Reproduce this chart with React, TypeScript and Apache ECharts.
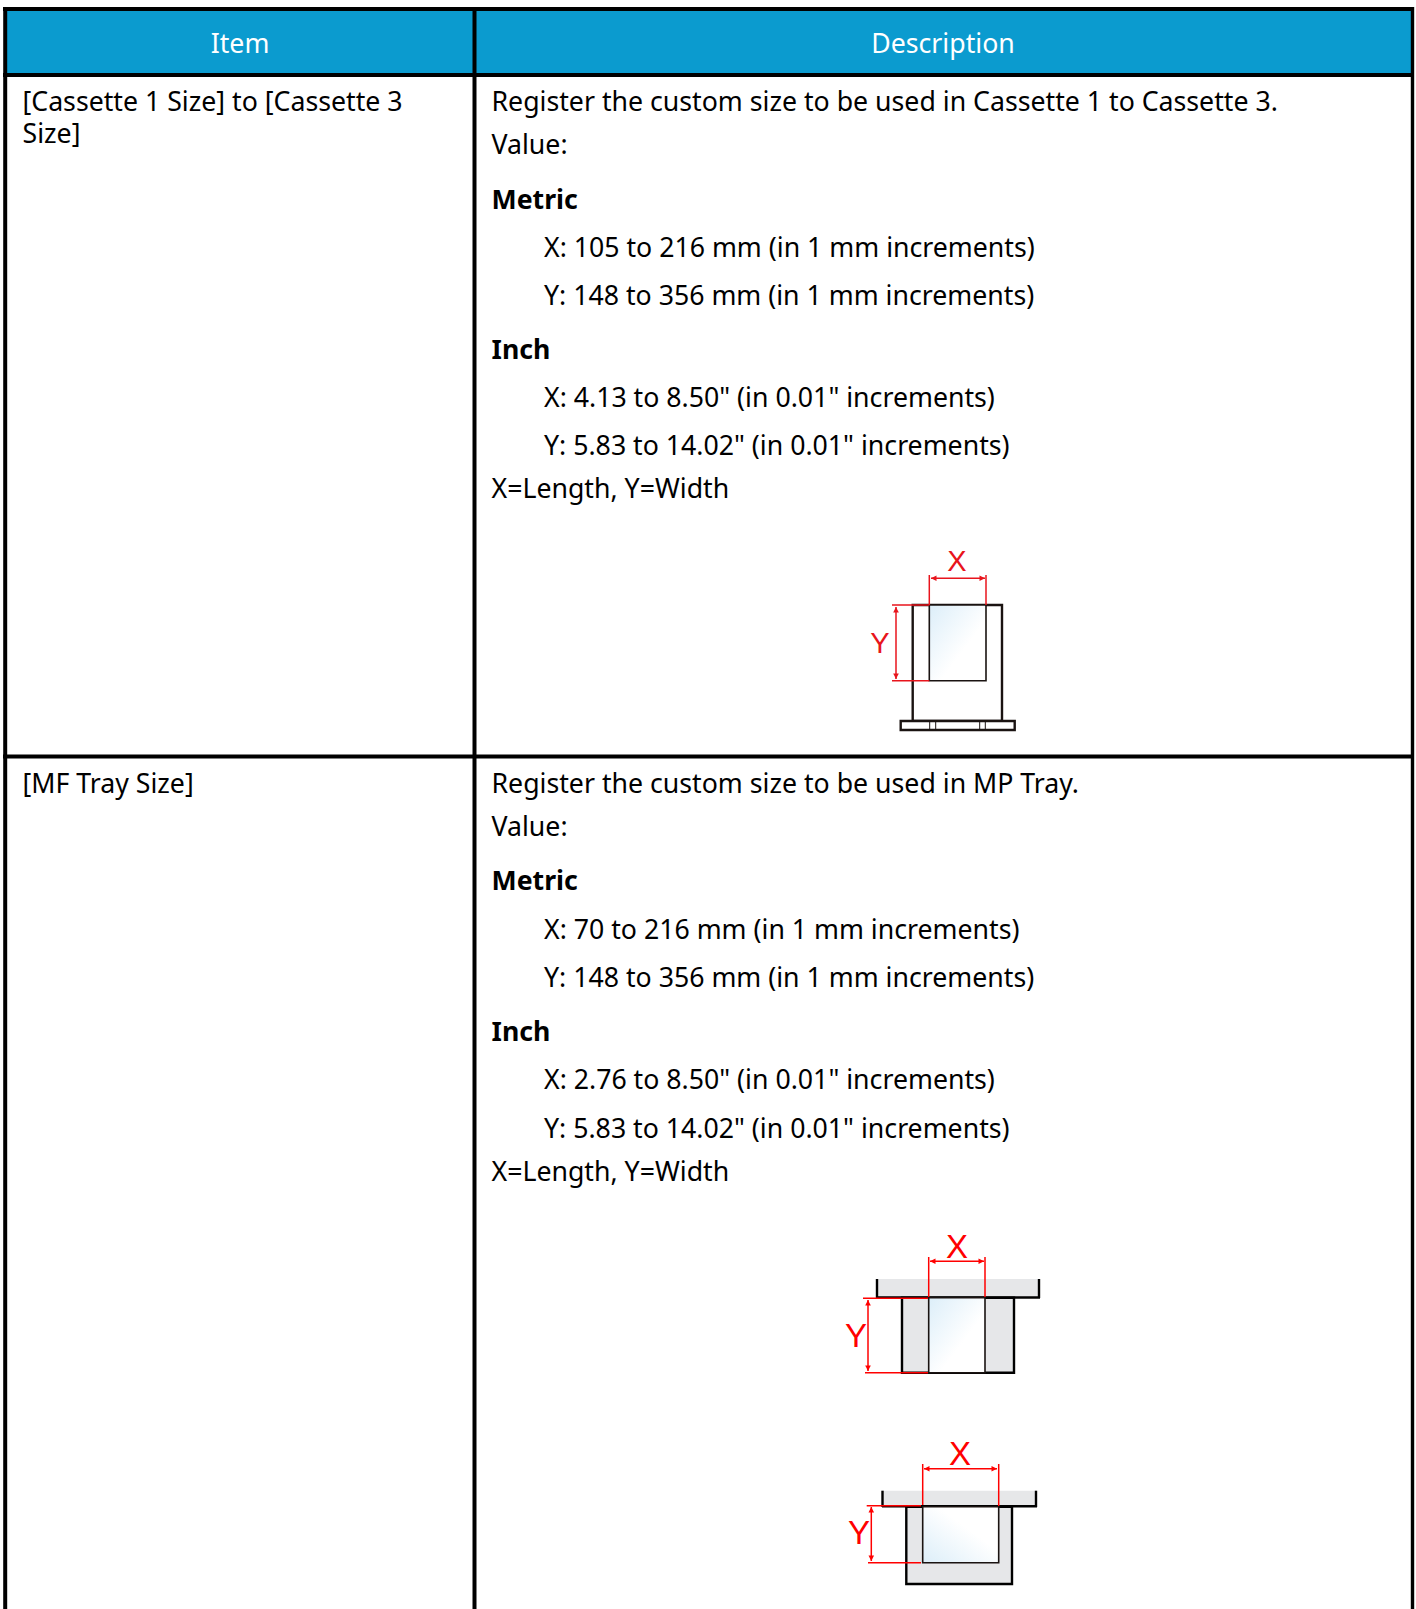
import React, { useEffect, useRef } from "react";
import * as echarts from "echarts";

const headerLabels = ["Item", "Description"];
const row1Item = ["[Cassette 1 Size] to [Cassette 3", "Size]"];
const row2Item = ["[MF Tray Size]"];
const row1Desc = [
  "Register the custom size to be used in Cassette 1 to Cassette 3.",
  "Value:",
  "Metric",
  "X: 105 to 216 mm (in 1 mm increments)",
  "Y: 148 to 356 mm (in 1 mm increments)",
  "Inch",
  'X: 4.13 to 8.50" (in 0.01" increments)',
  'Y: 5.83 to 14.02" (in 0.01" increments)',
  "X=Length, Y=Width",
];
const row2Desc = [
  "Register the custom size to be used in MP Tray.",
  "Value:",
  "Metric",
  "X: 70 to 216 mm (in 1 mm increments)",
  "Y: 148 to 356 mm (in 1 mm increments)",
  "Inch",
  'X: 2.76 to 8.50" (in 0.01" increments)',
  'Y: 5.83 to 14.02" (in 0.01" increments)',
  "X=Length, Y=Width",
];

const FONT = '"Noto Sans", sans-serif';
const SIZE = 26.7;
const RED = "#e8141c";
const PURE_RED = "#ff0000";
const GREY = "#e6e7e9";
const BLUE = "#0b9bcf";

function text(t: string, x: number, y: number, o: any = {}) {
  return {
    type: "text",
    silent: true,
    style: {
      text: t, x, y,
      fontFamily: FONT, fontSize: SIZE, fill: "#000",
      align: "left", verticalAlign: "middle",
      ...o,
    },
  };
}
const rect = (x: number, y: number, w: number, h: number, fill: any, stroke?: string, lw = 2) => ({
  type: "rect", silent: true,
  shape: { x, y, width: w, height: h },
  style: { fill, stroke: stroke || "none", lineWidth: stroke ? lw : 0 },
});
const line = (x1: number, y1: number, x2: number, y2: number, stroke: string, lw = 1.5) => ({
  type: "line", silent: true,
  shape: { x1, y1, x2, y2 },
  style: { stroke, lineWidth: lw },
});
const tri = (pts: number[][], fill: string) => ({
  type: "polygon", silent: true, shape: { points: pts }, style: { fill },
});
function hArrow(x1: number, x2: number, y: number, c: string) {
  const a = 5.5, b = 2.8;
  return [
    line(x1, y, x2, y, c),
    tri([[x1, y], [x1 + a, y - b], [x1 + a, y + b]], c),
    tri([[x2, y], [x2 - a, y - b], [x2 - a, y + b]], c),
  ];
}
function vArrow(x: number, y1: number, y2: number, c: string) {
  const a = 5.5, b = 2.8;
  return [
    line(x, y1, x, y2, c),
    tri([[x, y1], [x - b, y1 + a], [x + b, y1 + a]], c),
    tri([[x, y2], [x - b, y2 - a], [x + b, y2 - a]], c),
  ];
}
const grad = (x: number, y: number, x2: number, y2: number) =>
  new echarts.graphic.LinearGradient(x, y, x2, y2, [
    { offset: 0, color: "#dceef9" },
    { offset: 0.6, color: "#ffffff" },
    { offset: 1, color: "#ffffff" },
  ]);
const dimLabel = (t: string, x: number, y: number, size: number, c: string) =>
  text(t, x, y, { fontFamily: '"Liberation Sans", sans-serif', fontSize: size, fill: c, align: "center" });

function table() {
  const K = "#000";
  const els: any[] = [
    rect(0, 0, 1416, 1609, "#fff"),
    rect(5, 9, 1408, 66, BLUE),
    line(5.2, 7, 5.2, 1609, K, 4),
    line(1412.5, 7, 1412.5, 1609, K, 3.4),
    line(474.5, 7, 474.5, 1609, K, 4),
    line(3, 9, 1414, 9, K, 4),
    line(3, 75, 1414, 75, K, 4),
    line(3, 756.5, 1414, 756.5, K, 4),
    text(headerLabels[0], 240, 42.4, { fill: "#fff", align: "center" }),
    text(headerLabels[1], 943, 42.4, { fill: "#fff", align: "center" }),
  ];
  const itemYs1 = [100.7, 132.9];
  row1Item.forEach((t, i) => els.push(text(t, 22.5, itemYs1[i])));
  row2Item.forEach((t) => els.push(text(t, 22.5, 782.8)));
  const ys1 = [100.7, 143.8, 198, 246.4, 294.6, 348.6, 396.4, 444.4, 487.4];
  const ys2 = [782.8, 825.8, 879, 928.3, 976.3, 1030, 1078.8, 1127.2, 1170];
  [[row1Desc, ys1], [row2Desc, ys2]].forEach(([lines, ys]: any) => {
    lines.forEach((t: string, i: number) => {
      const bold = i === 2 || i === 5;
      const indent = [3, 4, 6, 7].includes(i);
      els.push(text(t, indent ? 544 : 491.5, ys[i], bold ? { fontWeight: "bold" } : {}));
    });
  });

  // Diagram 1
  els.push(
    rect(912.7, 605, 89.3, 116, "#fff", "#1a1311", 2.4),
    rect(929.3, 605, 56.7, 75.7, grad(0, 0, 1, 1), "#1a1311", 1.6),
    rect(900.7, 721, 114, 9, "#fff", "#1a1311", 2.4),
    line(929.7, 721, 929.7, 730, "#1a1311", 1),
    line(935.7, 721, 935.7, 730, "#1a1311", 1),
    line(979.7, 721, 979.7, 730, "#1a1311", 1),
    line(985.3, 721, 985.3, 730, "#1a1311", 1),
    line(929.3, 575, 929.3, 605, RED),
    line(986, 575, 986, 605, RED),
    line(892, 605, 929.3, 605, RED),
    line(892, 680.7, 929.3, 680.7, RED),
    ...hArrow(931, 985, 578.3, RED),
    ...vArrow(896, 607, 679, RED),
    dimLabel("X", 957, 561, 29, RED),
    dimLabel("Y", 880, 642.7, 29, RED),
  );

  // Diagram 2
  els.push(
    rect(876.7, 1279, 162.3, 18.5, GREY),
    line(877, 1279, 877, 1298, K, 2.4),
    line(1039, 1279, 1039, 1298, K, 2.4),
    line(876, 1297.5, 1040, 1297.5, K, 2.4),
    rect(902, 1297.7, 112, 75, GREY, K, 2.4),
    rect(928.7, 1297.7, 56.3, 75, grad(0, 0, 1, 1), "#1a1311", 1.6),
    line(928.7, 1257, 928.7, 1297, PURE_RED),
    line(985, 1257, 985, 1297, PURE_RED),
    line(863, 1298.3, 928, 1298.3, PURE_RED),
    line(865, 1372.7, 928, 1372.7, PURE_RED),
    ...hArrow(930, 984, 1261.3, PURE_RED),
    ...vArrow(868, 1300, 1371, PURE_RED),
    dimLabel("X", 957, 1246, 33, PURE_RED),
    dimLabel("Y", 856, 1335, 33, PURE_RED),
  );

  // Diagram 3
  els.push(
    rect(882.3, 1490.7, 153.7, 16, GREY),
    line(882.5, 1490.7, 882.5, 1507, K, 2.4),
    line(1036, 1490.7, 1036, 1507, K, 2.4),
    line(882, 1506.3, 1037, 1506.3, K, 2.4),
    rect(906.3, 1506.7, 105.7, 77.3, GREY, K, 2.4),
    rect(922.7, 1506.7, 76, 56, grad(0, 1, 1, 0), "#1a1311", 1.6),
    line(922.7, 1464, 922.7, 1505, PURE_RED),
    line(998.7, 1464, 998.7, 1506, PURE_RED),
    line(866.7, 1505.7, 921, 1505.7, PURE_RED),
    line(868, 1562.7, 921, 1562.7, PURE_RED),
    ...hArrow(924, 997, 1468.7, PURE_RED),
    ...vArrow(871.3, 1507, 1561, PURE_RED),
    dimLabel("X", 960, 1453, 33, PURE_RED),
    dimLabel("Y", 859, 1532.7, 33, PURE_RED),
  );
  return els;
}

export default function App() {
  const ref = useRef<HTMLDivElement>(null);
  useEffect(() => {
    document.body.style.margin = "0";
    document.body.style.overflow = "hidden";
    const chart = echarts.init(ref.current!, undefined, { renderer: "svg" });
    chart.setOption({ animation: false, graphic: { elements: table() } });
    return () => chart.dispose();
  }, []);
  return <div ref={ref} style={{ position: "absolute", left: 0, top: 0, width: 1416, height: 1609 }} />;
}
